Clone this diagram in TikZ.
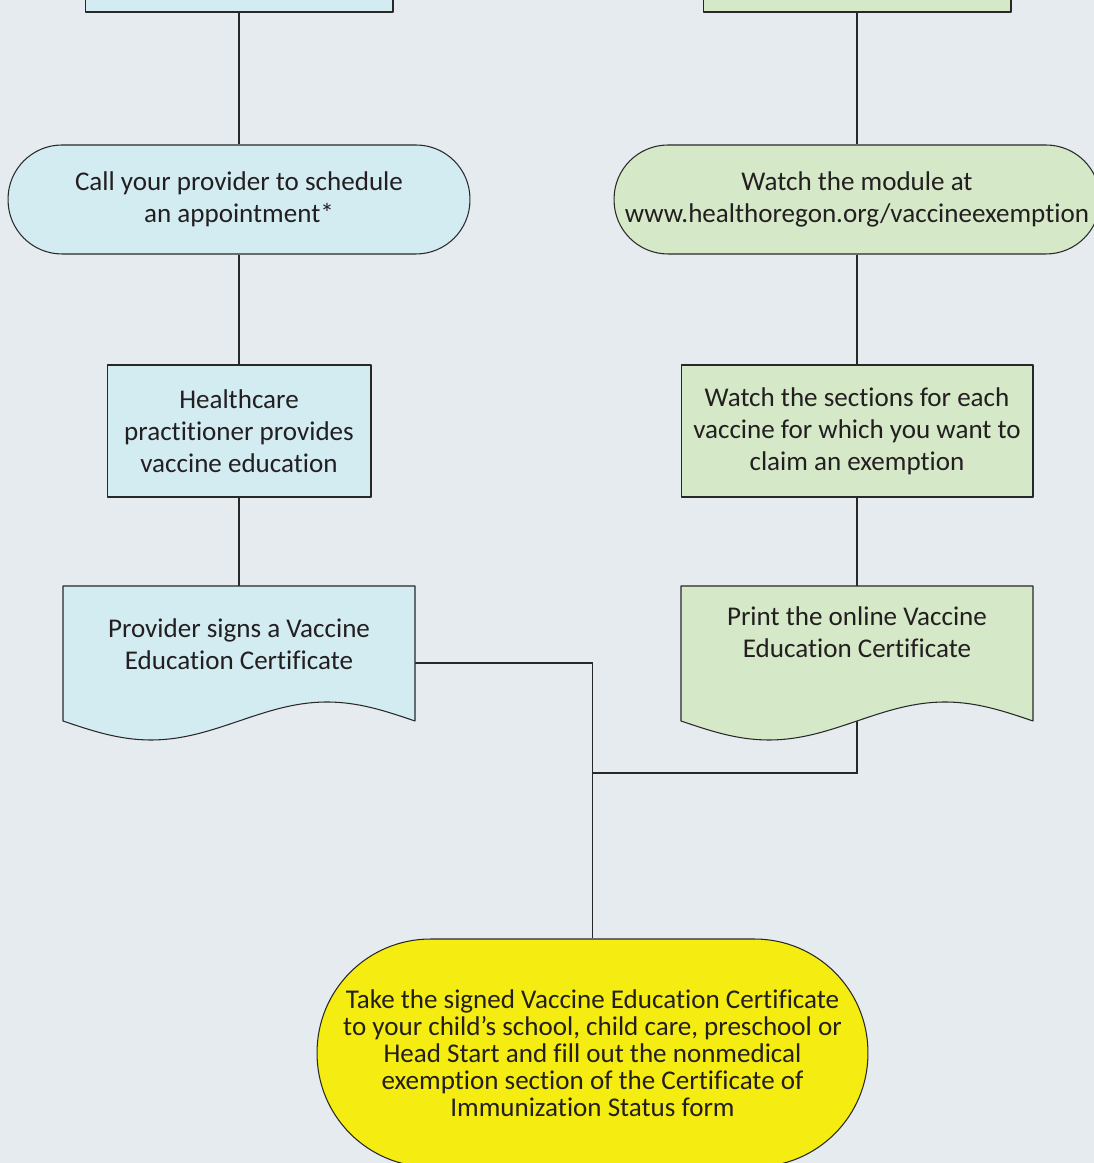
\documentclass[tikz,border=0pt]{standalone}
\usepackage{fontspec}
\setmainfont{Carlito}[Ligatures=NoCommon]
\definecolor{bgcol}{RGB}{230,235,240}
\definecolor{bluefill}{RGB}{211,236,242}
\definecolor{greenfill}{RGB}{213,232,200}
\definecolor{yellowfill}{RGB}{245,236,18}
\definecolor{edgecol}{RGB}{40,40,40}
\definecolor{txtcol}{RGB}{35,31,32}
\pgfdeclarelayer{back}
\pgfdeclarelayer{wires}
\pgfsetlayers{back,wires,main}
\begin{document}
\begin{tikzpicture}[x=0.02cm,y=0.02cm,line cap=round,line join=round,
  every node/.style={text=txtcol,font=\fontsize{15.4}{18.2}\selectfont,align=center,inner sep=0pt},
  stepbox/.style={rectangle,draw=edgecol,line width=0.6pt},
  pill/.style={rectangle,draw=edgecol,line width=0.6pt,minimum height=2.18cm,rounded corners=1.08cm},
  docbox/.style={rectangle,minimum width=7.04cm,minimum height=3.08cm},
  docline/.style={draw=edgecol,line width=0.6pt},
  wire/.style={draw=edgecol,line width=0.6pt}]
  \useasboundingbox (0,0) rectangle (1094,1163);
  \begin{pgfonlayer}{back}
    \fill[bgcol] (0,0) rectangle (1094,1163);
  \end{pgfonlayer}
  % left column
  \node[stepbox,fill=bluefill,minimum width=6.16cm,minimum height=1.44cm] (topL) at (239,1187) {};
  \node[pill,fill=bluefill,minimum width=9.24cm] (call) at (239,963.5)
    {Call your provider to schedule\\an appointment*};
  \node[stepbox,fill=bluefill,minimum width=5.28cm,minimum height=2.64cm] (hcp) at (239,732)
    {Healthcare\\practitioner provides\\vaccine education};
  \node[docbox] (signL) at (239,500) {};
  \draw[docline,fill=bluefill] (63,442) -- (63,577) -- (415,577) -- (415,442)
    sin (327,461) cos (239,442) sin (151,423) cos (63,442) -- cycle;
  \node (signtxt) at (239,519) {Provider signs a Vaccine\\Education Certificate};
  % right column
  \node[stepbox,fill=greenfill,minimum width=6.16cm,minimum height=1.44cm] (topR) at (857,1187) {};
  \node[pill,fill=greenfill,minimum width=9.72cm] (module) at (857,963.5)
    {Watch the module at\\www.healthoregon.org/vaccineexemption};
  \node[stepbox,fill=greenfill,minimum width=7.04cm,minimum height=2.64cm] (sect) at (857,732)
    {Watch the sections for each\\vaccine for which you want to\\claim an exemption};
  \node[docbox] (printR) at (857,500) {};
  \draw[docline,fill=greenfill] (681,442) -- (681,577) -- (1033,577) -- (1033,442)
    sin (945,461) cos (857,442) sin (769,423) cos (681,442) -- cycle;
  \node (printtxt) at (857,531) {Print the online Vaccine\\Education Certificate};
  % final step
  \node[pill,fill=yellowfill,minimum width=11.02cm,minimum height=4.56cm,rounded corners=2.27cm,
    font=\fontsize{15.4}{15.4}\selectfont] (take) at (592.5,110)
    {Take the signed Vaccine Education Certificate\\to your child’s school, child care, preschool or\\Head Start and fill out the nonmedical\\exemption section of the Certificate of\\Immunization Status form};
  \coordinate (meet) at (592.5,390);
  \begin{pgfonlayer}{wires}
    \draw[wire] (topL.south) -- (call.north);
    \draw[wire] (call.south) -- (hcp.north);
    \draw[wire] (hcp.south) -- (signL.north);
    \draw[wire] (topR.south) -- (module.north);
    \draw[wire] (module.south) -- (sect.north);
    \draw[wire] (sect.south) -- (printR.north);
    \draw[wire] (signL.east) -| (take.north);
    \draw[wire] (printR.center) |- (meet);
  \end{pgfonlayer}
\end{tikzpicture}
\end{document}
